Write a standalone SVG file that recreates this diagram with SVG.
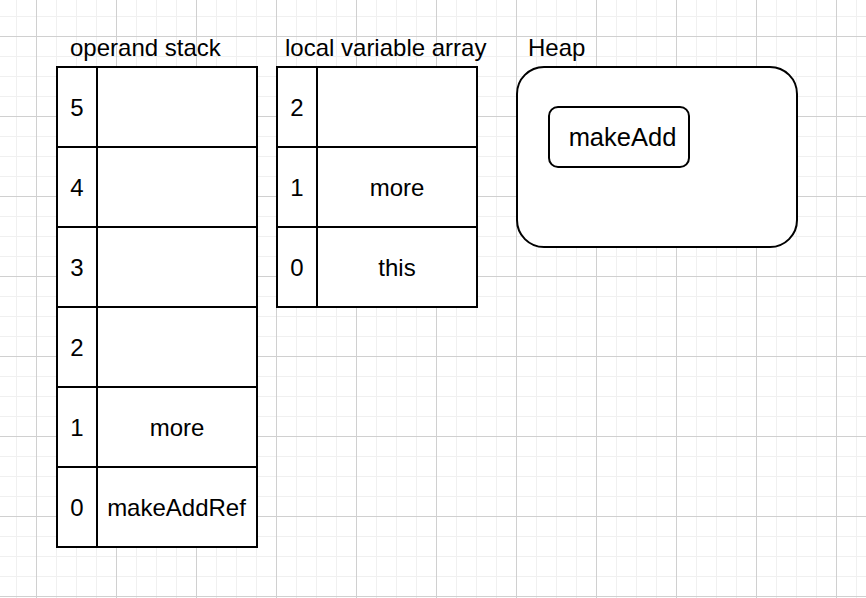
<svg xmlns="http://www.w3.org/2000/svg" width="866" height="598" viewBox="0 0 866 598">
<defs>
<pattern id="minor" x="16" y="16" width="20" height="20" patternUnits="userSpaceOnUse">
<path d="M0 0.5H20M0.5 0V20" stroke="#f0f0f0" stroke-width="1" fill="none"/>
</pattern>
<pattern id="major" x="36" y="36" width="80" height="80" patternUnits="userSpaceOnUse">
<path d="M0 0.5H80M0.5 0V80" stroke="#d0d0d0" stroke-width="1" fill="none"/>
</pattern>
</defs>
<style>
.box{fill:#ffffff;stroke:#000000;stroke-width:2}
.ln{stroke:#000000;stroke-width:2;fill:none}
text{font-family:"Liberation Sans",Arial,Helvetica,sans-serif;font-size:24px;fill:#000000}
.c{text-anchor:middle}
</style>
<rect width="866" height="598" fill="#ffffff"/>
<rect width="866" height="598" fill="url(#minor)"/>
<rect width="866" height="598" fill="url(#major)"/>

<g id="operand-stack">
<text x="70" y="56">operand stack</text>
<rect class="box" x="57" y="67" width="200" height="480"/>
<path class="ln" d="M97 67V547M57 147H257M57 227H257M57 307H257M57 387H257M57 467H257"/>
<text class="c" x="77" y="115.5">5</text>
<text class="c" x="77" y="195.5">4</text>
<text class="c" x="77" y="275.5">3</text>
<text class="c" x="77" y="355.5">2</text>
<text class="c" x="77" y="435.5">1</text>
<text class="c" x="77" y="515.5">0</text>
<text class="c" x="177" y="435.5">more</text>
<text class="c" x="176.5" y="515.5">makeAddRef</text>
</g>

<g id="local-variable-array">
<text x="285" y="56">local variable array</text>
<rect class="box" x="277" y="67" width="200" height="240"/>
<path class="ln" d="M317 67V307M277 147H477M277 227H477"/>
<text class="c" x="297" y="115.5">2</text>
<text class="c" x="297" y="195.5">1</text>
<text class="c" x="297" y="275.5">0</text>
<text class="c" x="397" y="195.5">more</text>
<text class="c" x="397" y="275.5">this</text>
</g>

<g id="heap">
<text x="528" y="56">Heap</text>
<rect class="box" x="517" y="67" width="280" height="180" rx="27" ry="27"/>
</g>
<g id="makeAdd">
<rect class="box" x="549" y="107" width="140" height="60" rx="9" ry="9"/>
<text class="c" x="622.5" y="146" style="font-size:25.5px">makeAdd</text>
</g>
<g id="connectors"/>
</svg>
